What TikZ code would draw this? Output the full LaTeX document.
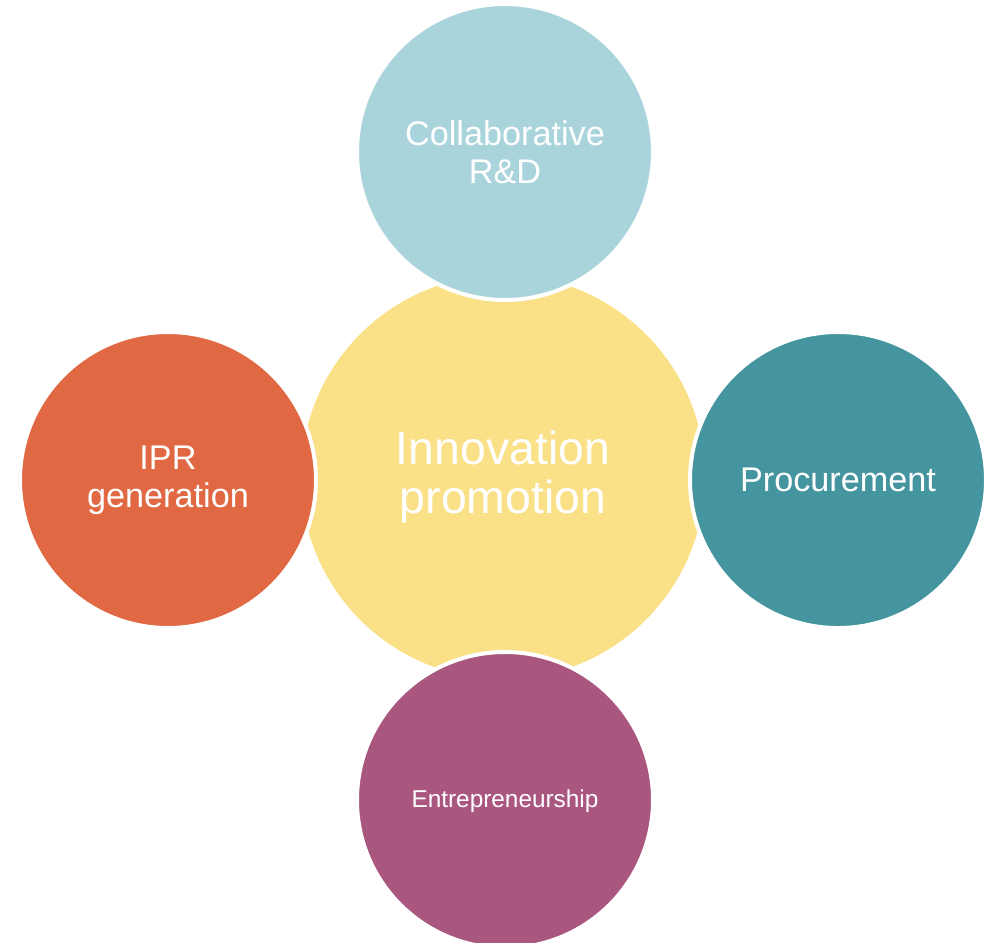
\documentclass[tikz,border=0pt]{standalone}
\usepackage{fontspec}
\setmainfont{Liberation Sans}
\definecolor{hubyellow}{HTML}{FAE087}
\definecolor{rdblue}{HTML}{AAD4DB}
\definecolor{iprorange}{HTML}{E06843}
\definecolor{procteal}{HTML}{4495A0}
\definecolor{entpurple}{HTML}{AA577F}
\tikzset{
  hub/.style={circle, fill=hubyellow, draw=none, minimum size=12.12cm, inner sep=0pt,
    text=white, align=center, font=\fontsize{39.6}{42.5}\selectfont},
  satellite/.style={circle, draw=white, line width=3.4pt, minimum size=8.88cm, inner sep=0pt,
    text=white, align=center, font=\fontsize{29.2}{32.5}\selectfont},
}
\begin{document}
\begin{tikzpicture}[x=0.03cm, y=-0.03cm]
  \useasboundingbox (0,0) rectangle (997,943);
  % central theme
  \node[hub] (hub) at (503,477) {Innovation\\promotion};
  % surrounding areas
  \node[satellite, fill=rdblue] (rd) at (505,152) {Collaborative\\R\&D};
  \node[satellite, fill=iprorange] (ipr) at (168,480) {IPR\\generation};
  \node[satellite, fill=procteal] (proc) at (838,480) {Procurement};
  \node[satellite, fill=entpurple, font=\fontsize{20.8}{24}\selectfont,
        text depth=0.5ex] (ent) at (505,800) {Entrepreneurship};
\end{tikzpicture}
\end{document}
